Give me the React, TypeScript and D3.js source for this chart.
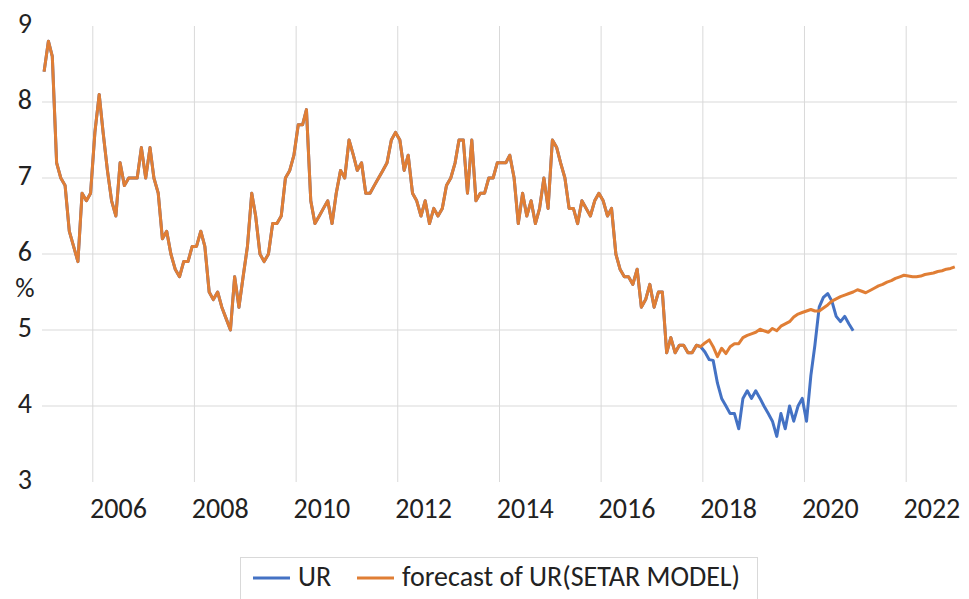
import React, { useEffect, useRef } from 'react';
import * as d3 from 'd3';

// monthly unemployment rate, Jan 2005 .. Dec 2022 (fitted + forecast, SETAR model)
const forecastUR: number[] = [
  8.4, 8.8, 8.6, 7.2, 7.0, 6.9, 6.3, 6.1, 5.9, 6.8, 6.7, 6.8, // 2005
  7.6, 8.1, 7.6, 7.1, 6.7, 6.5, 7.2, 6.9, 7.0, 7.0, 7.0, 7.4, // 2006
  7.0, 7.4, 7.0, 6.8, 6.2, 6.3, 6.0, 5.8, 5.7, 5.9, 5.9, 6.1, // 2007
  6.1, 6.3, 6.1, 5.5, 5.4, 5.5, 5.3, 5.15, 5.0, 5.7, 5.3, 5.7, // 2008
  6.1, 6.8, 6.5, 6.0, 5.9, 6.0, 6.4, 6.4, 6.5, 7.0, 7.1, 7.3, // 2009
  7.7, 7.7, 7.9, 6.7, 6.4, 6.5, 6.6, 6.7, 6.4, 6.8, 7.1, 7.0, // 2010
  7.5, 7.3, 7.1, 7.2, 6.8, 6.8, 6.9, 7.0, 7.1, 7.2, 7.5, 7.6, // 2011
  7.5, 7.1, 7.3, 6.8, 6.7, 6.5, 6.7, 6.4, 6.6, 6.5, 6.6, 6.9, // 2012
  7.0, 7.2, 7.5, 7.5, 6.8, 7.5, 6.7, 6.8, 6.8, 7.0, 7.0, 7.2, // 2013
  7.2, 7.2, 7.3, 7.0, 6.4, 6.8, 6.5, 6.7, 6.4, 6.6, 7.0, 6.6, // 2014
  7.5, 7.4, 7.2, 7.0, 6.6, 6.6, 6.4, 6.7, 6.6, 6.5, 6.7, 6.8, // 2015
  6.7, 6.5, 6.6, 6.0, 5.8, 5.7, 5.7, 5.6, 5.8, 5.3, 5.4, 5.6, // 2016
  5.3, 5.5, 5.5, 4.7, 4.9, 4.7, 4.8, 4.8, 4.7, 4.7, 4.8, 4.78, // 2017
  4.83, 4.87, 4.78, 4.65, 4.76, 4.69, 4.78, 4.82, 4.82, 4.9, 4.93, 4.95, // 2018
  4.97, 5.01, 4.99, 4.97, 5.02, 4.99, 5.05, 5.08, 5.11, 5.17, 5.21, 5.23, // 2019
  5.25, 5.27, 5.25, 5.25, 5.29, 5.33, 5.38, 5.41, 5.44, 5.46, 5.48, 5.5, // 2020
  5.53, 5.51, 5.49, 5.52, 5.55, 5.58, 5.6, 5.63, 5.65, 5.68, 5.7, 5.72, // 2021
  5.71, 5.7, 5.7, 5.71, 5.73, 5.74, 5.75, 5.77, 5.78, 5.8, 5.81, 5.83, // 2022
];

// actual UR where it departs from the fitted line: Dec 2017 .. Dec 2020
const urSplit = 155;
const urRecent: number[] = [
  4.78, // Dec 2017
  4.71, 4.61, 4.6, 4.3, 4.1, 4.0, 3.9, 3.9, 3.7, 4.1, 4.2, 4.1, // 2018
  4.2, 4.1, 4.0, 3.9, 3.8, 3.6, 3.9, 3.7, 4.0, 3.8, 4.0, 4.1, // 2019
  3.8, 4.4, 4.8, 5.3, 5.43, 5.48, 5.38, 5.18, 5.11, 5.18, 5.08, 4.99, // 2020
];

const startYear = 2005;
const endYear = 2023;
const yTicks = [3, 4, 5, 6, 7, 8, 9];
const gridValues = [4, 5, 6, 7, 8];
const yearLabels = [2006, 2008, 2010, 2012, 2014, 2016, 2018, 2020, 2022];
const seriesNames = ['UR', 'forecast of UR(SETAR MODEL)'];
const colors = ['#4472C4', '#E07E35'];

const W = 969, H = 599;
const margin = { top: 26, right: 12, bottom: 117, left: 42 };
const font = 'Carlito, Calibri, "Liberation Sans Narrow", "Open Sans", sans-serif';

const monthDate = (i: number) => new Date(startYear + Math.floor(i / 12), i % 12, 16);

export default function App() {
  const ref = useRef<SVGSVGElement>(null);

  useEffect(() => {
    const svg = d3.select(ref.current);
    svg.selectAll('*').remove();

    const x = d3.scaleTime()
      .domain([new Date(startYear, 0, 1), new Date(endYear, 0, 1)])
      .range([margin.left, W - margin.right]);
    const y = d3.scaleLinear()
      .domain([3, 9])
      .range([H - margin.bottom, margin.top]);

    // gridlines
    svg.append('g').selectAll('line.h')
      .data(gridValues)
      .enter().append('line')
      .attr('x1', x.range()[0]).attr('x2', x.range()[1])
      .attr('y1', d => y(d)).attr('y2', d => y(d))
      .attr('stroke', '#d9d9d9').attr('stroke-width', 1);
    svg.append('g').selectAll('line.v')
      .data(yearLabels)
      .enter().append('line')
      .attr('x1', d => x(new Date(d, 0, 1))).attr('x2', d => x(new Date(d, 0, 1)))
      .attr('y1', y(9)).attr('y2', y(3))
      .attr('stroke', '#d9d9d9').attr('stroke-width', 1);

    // y axis labels
    const yAxis = svg.append('g')
      .attr('transform', 'translate(32,-2)')
      .call(d3.axisLeft(y).tickValues(yTicks).tickSize(0).tickPadding(0).tickFormat(d3.format('d')));
    yAxis.select('.domain').remove();
    yAxis.selectAll('text')
      .attr('font-family', font).attr('font-size', 28).attr('fill', '#222');

    svg.append('text')
      .attr('x', 25).attr('y', 291)
      .attr('text-anchor', 'middle').attr('dominant-baseline', 'middle')
      .attr('font-family', font).attr('font-size', 27).attr('fill', '#222')
      .text('%');

    // x axis labels, centred mid-year
    const xAxis = svg.append('g')
      .attr('transform', `translate(0,${H - margin.bottom + 13})`)
      .call(d3.axisBottom(x)
        .tickValues(yearLabels.map(d => new Date(d, 6, 1)))
        .tickSize(0)
        .tickFormat(d => d3.timeFormat('%Y')(d as Date)));
    xAxis.select('.domain').remove();
    xAxis.selectAll('text')
      .attr('font-family', font).attr('font-size', 28).attr('fill', '#222');

    // lines
    const line = d3.line<number>()
      .x((d, i) => x(monthDate(i)))
      .y(d => y(d));

    const urSeries = forecastUR.slice(0, urSplit).concat(urRecent);
    [urSeries, forecastUR].forEach((s, k) => {
      svg.append('path')
        .datum(s)
        .attr('fill', 'none')
        .attr('stroke', colors[k])
        .attr('stroke-width', 3)
        .attr('stroke-linejoin', 'round')
        .attr('d', line);
    });

    // legend
    const lg = svg.append('g');
    lg.append('rect')
      .attr('x', 240.5).attr('y', 557.5).attr('width', 517).attr('height', 50)
      .attr('fill', 'white').attr('stroke', '#d9d9d9');
    const legendX = [253, 357];
    seriesNames.forEach((name, k) => {
      lg.append('line')
        .attr('x1', legendX[k]).attr('x2', legendX[k] + 37)
        .attr('y1', 578).attr('y2', 578)
        .attr('stroke', colors[k]).attr('stroke-width', 3);
      lg.append('text')
        .attr('x', legendX[k] + 45).attr('y', 579)
        .attr('dominant-baseline', 'middle')
        .attr('font-family', font).attr('font-size', 28).attr('fill', '#222')
        .text(name);
    });
  }, []);

  return (
    <svg ref={ref} width={W} height={H}
      style={{ position: 'absolute', left: 0, top: 0, background: 'white' }} />
  );
}
